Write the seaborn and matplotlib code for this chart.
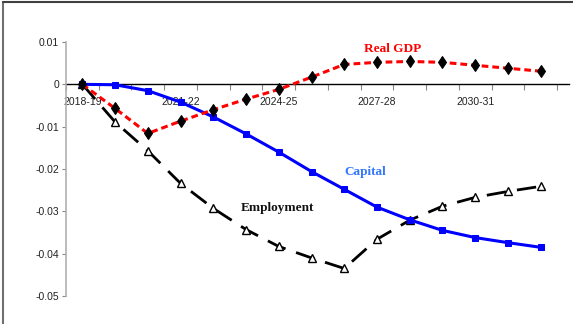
import matplotlib
matplotlib.use("Agg")
import matplotlib.pyplot as plt
import seaborn as sns
import numpy as np
import pandas as pd
from matplotlib.lines import Line2D

years = ["2018-19", "2019-20", "2020-21", "2021-22", "2022-23", "2023-24", "2024-25",
         "2025-26", "2026-27", "2027-28", "2028-29", "2029-30", "2030-31", "2031-32", "2032-33"]
real_gdp = [0.0, -0.0057, -0.0116, -0.0087, -0.0060, -0.0035, -0.0012, 0.0017,
            0.0047, 0.0052, 0.0054, 0.0052, 0.0045, 0.0038, 0.0031]
capital = [0.0, -0.0001, -0.0015, -0.0042, -0.0077, -0.0117, -0.0160, -0.0206,
           -0.0248, -0.0290, -0.0320, -0.0345, -0.0362, -0.0374, -0.0385]
employment = [0.0, -0.0089, -0.0157, -0.0234, -0.0293, -0.0343, -0.0383, -0.0410,
              -0.0435, -0.0366, -0.0321, -0.0288, -0.0267, -0.0253, -0.0241]
yticks = [0.01, 0.0, -0.01, -0.02, -0.03, -0.04, -0.05]
ytick_labels = ["0.01", "0", "-0.01", "-0.02", "-0.03", "-0.04", "-0.05"]
xlabel_years = ["2018-19", "2021-22", "2024-25", "2027-28", "2030-31"]

sns.set_style("white")
plt.rcParams["font.family"] = ["Liberation Sans", "DejaVu Sans"]

df = pd.DataFrame({"x": np.arange(len(years)), "year": years,
                   "Real GDP": real_gdp, "Capital": capital, "Employment": employment})

fig = plt.figure(figsize=(5.73, 3.24), dpi=100)
ax = fig.add_axes([66 / 573, 28 / 324, (569 - 66) / 573, (282 - 28) / 324])

sns.lineplot(data=df, x="x", y="Capital", ax=ax, color="#0000ff", lw=2.2,
             marker="s", markersize=5, markeredgecolor="#0000ff", markerfacecolor="#0000ff", zorder=3)
sns.lineplot(data=df, x="x", y="Employment", ax=ax, color="black", lw=2,
             marker="^", markersize=6, markeredgecolor="black", markerfacecolor="white",
             markeredgewidth=1, zorder=2)
ax.lines[-1].set_dashes([7, 4])
sns.lineplot(data=df, x="x", y="Real GDP", ax=ax, color="#ff0000", lw=2.2,
             marker="d", markersize=6, markeredgecolor="black", markerfacecolor="black", zorder=4)
ax.lines[-1].set_dashes([2.2, 1.3])

slot = (557 - 66) / 15
ax.set_xlim(-0.5, -0.5 + (569 - 66) / slot)
ax.set_ylim(-0.05, 0.01)

for s in ["top", "right"]:
    ax.spines[s].set_visible(False)
ax.spines["bottom"].set_position(("data", 0))
ax.spines["bottom"].set_color("black")
ax.spines["bottom"].set_linewidth(1)
ax.spines["bottom"].set_zorder(1)
ax.spines["left"].set_color("#b0b0b0")
ax.spines["left"].set_linewidth(1.2)

ax.set_yticks(yticks)
ax.set_yticklabels(ytick_labels, fontsize=7.5, color="#222222")
ax.tick_params(axis="y", direction="out", length=3, color="#888888", left=True, pad=2)

ax.set_xticks(np.arange(-0.5, 15, 1.0))
ax.set_xticklabels([])
ax.tick_params(axis="x", which="major", direction="out", length=4, color="#888888", bottom=True)
ax.set_xticks([years.index(y) for y in xlabel_years], minor=True)
ax.set_xticklabels(xlabel_years, minor=True, fontsize=7.5, color="#222222")
ax.tick_params(axis="x", which="minor", length=0, pad=9)
ax.set_xlabel("")
ax.set_ylabel("")
ax.grid(False)

ax.text(9.48, 0.0083, "Real GDP", color="#ff0000", fontsize=9.5, fontweight="bold",
        family="Liberation Serif", ha="center", va="center")
ax.text(8.65, -0.0206, "Capital", color="#3377ff", fontsize=9.5, fontweight="bold",
        family="Liberation Serif", ha="center", va="center")
ax.text(5.95, -0.0292, "Employment", color="#111111", fontsize=9.5, fontweight="bold",
        family="Liberation Serif", ha="center", va="center")

fig.add_artist(Line2D([3 / 573, 3 / 573], [0, 1 - 2 / 324], transform=fig.transFigure,
                      color="#707070", lw=1.5))
fig.add_artist(Line2D([3 / 573, 1], [1 - 2 / 324, 1 - 2 / 324], transform=fig.transFigure,
                      color="#404040", lw=1.5))

fig.savefig("out.png", dpi=100)
